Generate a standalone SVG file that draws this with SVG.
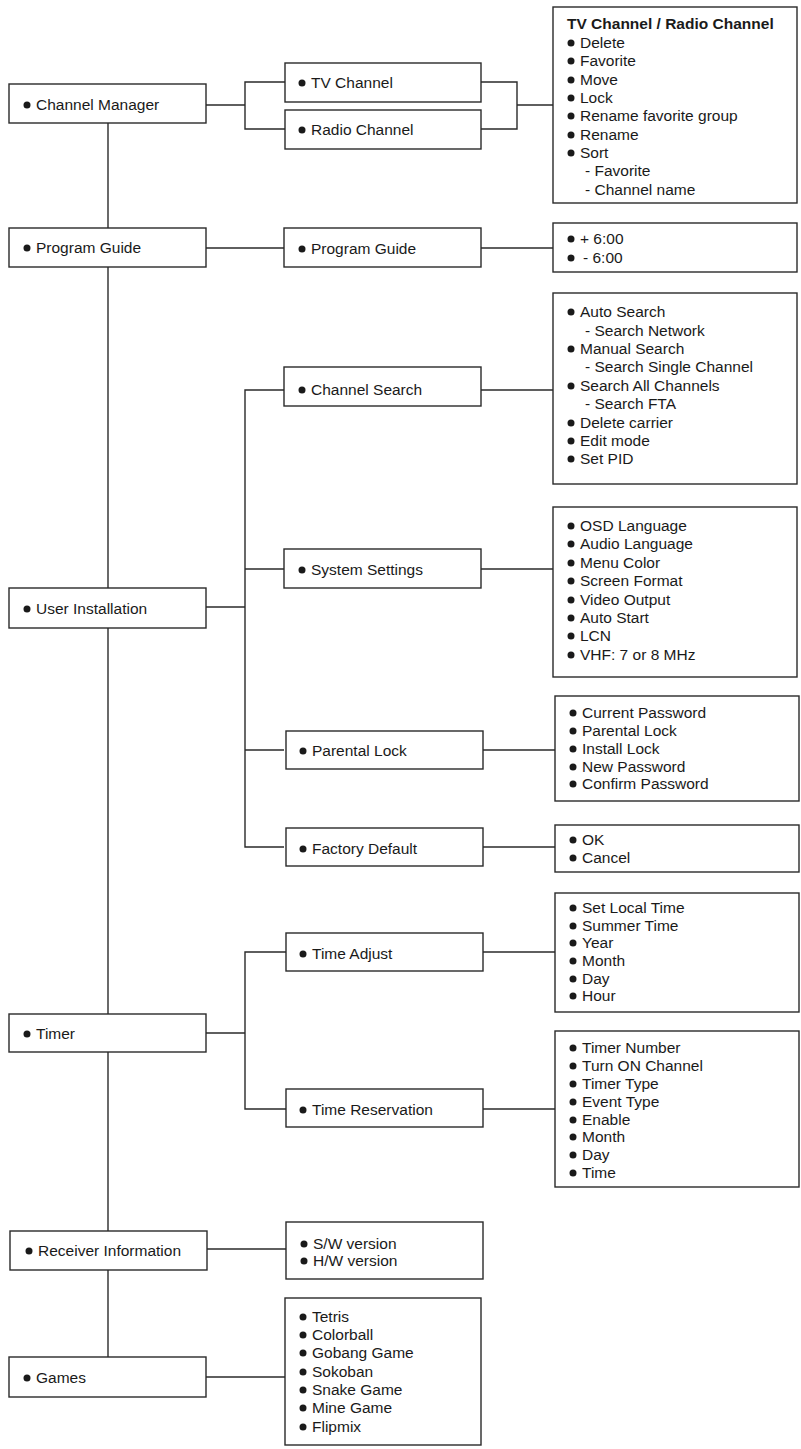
<svg xmlns="http://www.w3.org/2000/svg" width="801" height="1449" viewBox="0 0 801 1449">
<style>
rect{fill:#fff;stroke:#2a2a2a;stroke-width:1.4}
.c line,.c polyline{stroke:#2a2a2a;stroke-width:1.4;fill:none}
text{font-family:"Liberation Sans",Arial,sans-serif;font-size:15.5px;fill:#1a1a1a}
.b{font-weight:bold}
circle{fill:#1a1a1a}
</style>
<rect x="0" y="0" width="801" height="1449" style="stroke:none"/>
<g class="c" id="connectors">
<line x1="108" y1="123" x2="108" y2="1357"/>
<line x1="206" y1="105" x2="245" y2="105"/>
<polyline points="285,82 245,82 245,129 285,129"/>
<polyline points="481,82 517,82 517,129 481,129"/>
<line x1="517" y1="105" x2="553" y2="105"/>
<line x1="206" y1="248" x2="284" y2="248"/>
<line x1="481" y1="248" x2="553" y2="248"/>
<line x1="206" y1="607" x2="245" y2="607"/>
<polyline points="284,390 245,390 245,847 284,847"/>
<line x1="245" y1="569" x2="284" y2="569"/>
<line x1="245" y1="750" x2="284" y2="750"/>
<line x1="481" y1="390" x2="553" y2="390"/>
<line x1="481" y1="569" x2="553" y2="569"/>
<line x1="483" y1="750" x2="555" y2="750"/>
<line x1="483" y1="847" x2="555" y2="847"/>
<line x1="206" y1="1033" x2="245" y2="1033"/>
<polyline points="286,952 245,952 245,1109 286,1109"/>
<line x1="483" y1="952" x2="555" y2="952"/>
<line x1="483" y1="1109" x2="555" y2="1109"/>
<line x1="206" y1="1249" x2="286" y2="1249"/>
<line x1="206" y1="1377" x2="285" y2="1377"/>
</g>
<g id="channel-manager"><rect x="9" y="84" width="197" height="39"/><circle cx="27" cy="105" r="3.5"/><text x="36" y="110">Channel Manager</text></g>
<g id="tv-channel"><rect x="285" y="63" width="196" height="39"/><circle cx="302" cy="83" r="3.5"/><text x="311" y="88">TV Channel</text></g>
<g id="radio-channel"><rect x="285" y="110" width="196" height="39"/><circle cx="302" cy="130" r="3.5"/><text x="311" y="135">Radio Channel</text></g>
<g id="channel-list"><rect x="553" y="7" width="244" height="196"/>
<text class="b" x="567" y="29">TV Channel / Radio Channel</text>
<circle cx="571" cy="43" r="3.5"/><text x="580" y="48">Delete</text>
<circle cx="571" cy="61" r="3.5"/><text x="580" y="66">Favorite</text>
<circle cx="571" cy="80" r="3.5"/><text x="580" y="85">Move</text>
<circle cx="571" cy="98" r="3.5"/><text x="580" y="103">Lock</text>
<circle cx="571" cy="116" r="3.5"/><text x="580" y="121">Rename favorite group</text>
<circle cx="571" cy="135" r="3.5"/><text x="580" y="140">Rename</text>
<circle cx="571" cy="153" r="3.5"/><text x="580" y="158">Sort</text>
<text x="585" y="176">- Favorite</text>
<text x="585" y="195">- Channel name</text></g>
<g id="program-guide"><rect x="9" y="228" width="197" height="39"/><circle cx="27" cy="248" r="3.5"/><text x="36" y="253">Program Guide</text></g>
<g id="program-guide-sub"><rect x="284" y="228" width="197" height="39"/><circle cx="302" cy="249" r="3.5"/><text x="311" y="254">Program Guide</text></g>
<g id="pg-list"><rect x="553" y="223" width="244" height="49"/>
<circle cx="571" cy="239" r="3.5"/><text x="580" y="244">+ 6:00</text>
<circle cx="571" cy="258" r="3.5"/><text x="583" y="263">- 6:00</text></g>
<g id="user-installation"><rect x="9" y="588" width="197" height="40"/><circle cx="27" cy="609" r="3.5"/><text x="36" y="614">User Installation</text></g>
<g id="channel-search"><rect x="284" y="367" width="197" height="39"/><circle cx="302" cy="390" r="3.5"/><text x="311" y="395">Channel Search</text></g>
<g id="cs-list"><rect x="553" y="293" width="244" height="191"/>
<circle cx="571" cy="312" r="3.5"/><text x="580" y="317">Auto Search</text>
<text x="585" y="336">- Search Network</text>
<circle cx="571" cy="349" r="3.5"/><text x="580" y="354">Manual Search</text>
<text x="585" y="372">- Search Single Channel</text>
<circle cx="571" cy="386" r="3.5"/><text x="580" y="391">Search All Channels</text>
<text x="585" y="409">- Search FTA</text>
<circle cx="571" cy="423" r="3.5"/><text x="580" y="428">Delete carrier</text>
<circle cx="571" cy="441" r="3.5"/><text x="580" y="446">Edit mode</text>
<circle cx="571" cy="459" r="3.5"/><text x="580" y="464">Set PID</text></g>
<g id="system-settings"><rect x="284" y="549" width="197" height="39"/><circle cx="302" cy="570" r="3.5"/><text x="311" y="575">System Settings</text></g>
<g id="ss-list"><rect x="553" y="507" width="244" height="170"/>
<circle cx="571" cy="526" r="3.5"/><text x="580" y="531">OSD Language</text>
<circle cx="571" cy="544" r="3.5"/><text x="580" y="549">Audio Language</text>
<circle cx="571" cy="563" r="3.5"/><text x="580" y="568">Menu Color</text>
<circle cx="571" cy="581" r="3.5"/><text x="580" y="586">Screen Format</text>
<circle cx="571" cy="600" r="3.5"/><text x="580" y="605">Video Output</text>
<circle cx="571" cy="618" r="3.5"/><text x="580" y="623">Auto Start</text>
<circle cx="571" cy="636" r="3.5"/><text x="580" y="641">LCN</text>
<circle cx="571" cy="655" r="3.5"/><text x="580" y="660">VHF: 7 or 8 MHz</text></g>
<g id="parental-lock"><rect x="286" y="731" width="197" height="38"/><circle cx="303" cy="751" r="3.5"/><text x="312" y="756">Parental Lock</text></g>
<g id="pl-list"><rect x="555" y="696" width="244" height="105"/>
<circle cx="573" cy="713" r="3.5"/><text x="582" y="718">Current Password</text>
<circle cx="573" cy="731" r="3.5"/><text x="582" y="736">Parental Lock</text>
<circle cx="573" cy="749" r="3.5"/><text x="582" y="754">Install Lock</text>
<circle cx="573" cy="767" r="3.5"/><text x="582" y="772">New Password</text>
<circle cx="573" cy="784" r="3.5"/><text x="582" y="789">Confirm Password</text></g>
<g id="factory-default"><rect x="286" y="828" width="197" height="38"/><circle cx="303" cy="849" r="3.5"/><text x="312" y="854">Factory Default</text></g>
<g id="fd-list"><rect x="555" y="825" width="244" height="47"/>
<circle cx="573" cy="840" r="3.5"/><text x="582" y="845">OK</text>
<circle cx="573" cy="858" r="3.5"/><text x="582" y="863">Cancel</text></g>
<g id="timer"><rect x="9" y="1014" width="197" height="38"/><circle cx="27" cy="1034" r="3.5"/><text x="36" y="1039">Timer</text></g>
<g id="time-adjust"><rect x="286" y="933" width="197" height="38"/><circle cx="303" cy="954" r="3.5"/><text x="312" y="959">Time Adjust</text></g>
<g id="ta-list"><rect x="555" y="893" width="244" height="119"/>
<circle cx="573" cy="908" r="3.5"/><text x="582" y="913">Set Local Time</text>
<circle cx="573" cy="926" r="3.5"/><text x="582" y="931">Summer Time</text>
<circle cx="573" cy="943" r="3.5"/><text x="582" y="948">Year</text>
<circle cx="573" cy="961" r="3.5"/><text x="582" y="966">Month</text>
<circle cx="573" cy="979" r="3.5"/><text x="582" y="984">Day</text>
<circle cx="573" cy="996" r="3.5"/><text x="582" y="1001">Hour</text></g>
<g id="time-reservation"><rect x="286" y="1089" width="197" height="38"/><circle cx="303" cy="1110" r="3.5"/><text x="312" y="1115">Time Reservation</text></g>
<g id="tr-list"><rect x="555" y="1031" width="244" height="156"/>
<circle cx="573" cy="1048" r="3.5"/><text x="582" y="1053">Timer Number</text>
<circle cx="573" cy="1066" r="3.5"/><text x="582" y="1071">Turn ON Channel</text>
<circle cx="573" cy="1084" r="3.5"/><text x="582" y="1089">Timer Type</text>
<circle cx="573" cy="1102" r="3.5"/><text x="582" y="1107">Event Type</text>
<circle cx="573" cy="1120" r="3.5"/><text x="582" y="1125">Enable</text>
<circle cx="573" cy="1137" r="3.5"/><text x="582" y="1142">Month</text>
<circle cx="573" cy="1155" r="3.5"/><text x="582" y="1160">Day</text>
<circle cx="573" cy="1173" r="3.5"/><text x="582" y="1178">Time</text></g>
<g id="receiver-information"><rect x="10" y="1231" width="197" height="39"/><circle cx="29" cy="1251" r="3.5"/><text x="38" y="1256">Receiver Information</text></g>
<g id="ri-list"><rect x="286" y="1222" width="197" height="57"/>
<circle cx="304" cy="1244" r="3.5"/><text x="313" y="1249">S/W version</text>
<circle cx="304" cy="1261" r="3.5"/><text x="313" y="1266">H/W version</text></g>
<g id="games"><rect x="9" y="1357" width="197" height="40"/><circle cx="27" cy="1378" r="3.5"/><text x="36" y="1383">Games</text></g>
<g id="games-list"><rect x="285" y="1298" width="196" height="147"/>
<circle cx="303" cy="1317" r="3.5"/><text x="312" y="1322">Tetris</text>
<circle cx="303" cy="1335" r="3.5"/><text x="312" y="1340">Colorball</text>
<circle cx="303" cy="1353" r="3.5"/><text x="312" y="1358">Gobang Game</text>
<circle cx="303" cy="1372" r="3.5"/><text x="312" y="1377">Sokoban</text>
<circle cx="303" cy="1390" r="3.5"/><text x="312" y="1395">Snake Game</text>
<circle cx="303" cy="1408" r="3.5"/><text x="312" y="1413">Mine Game</text>
<circle cx="303" cy="1427" r="3.5"/><text x="312" y="1432">Flipmix</text></g>
</svg>
